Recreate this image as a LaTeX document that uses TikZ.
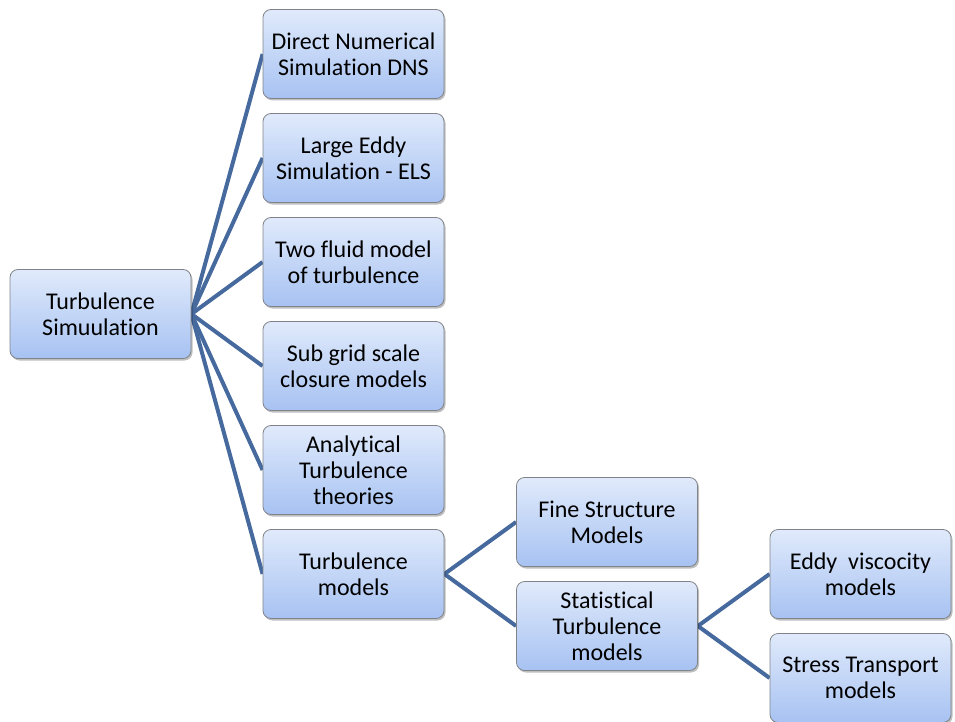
\documentclass[tikz,border=0pt]{standalone}
\usepackage{fontspec}
\setmainfont[Ligatures=NoCommon]{Carlito}
\usetikzlibrary{shadows,backgrounds}
\definecolor{boxtop}{HTML}{E0EAFB}
\definecolor{boxbot}{HTML}{A7C2F2}
\definecolor{boxedge}{HTML}{808488}
\definecolor{linkc}{HTML}{46699E}
\begin{document}
\begin{tikzpicture}[x=1pt,y=-1pt,
  box/.style={draw=boxedge, line width=0.8pt, rounded corners=8pt,
    top color=boxtop, bottom color=boxbot,
    minimum width=181pt, minimum height=89pt, inner sep=0pt,
    align=center, font=\fontsize{24}{26}\selectfont,
    drop shadow={shadow xshift=1.5pt, shadow yshift=-2pt, opacity=0.25, fill=black}},
  link/.style={draw=linkc, line width=4pt}]
\useasboundingbox (0,0) rectangle (955,722);
\node[box] (root) at (100.5,314) {Turbulence\\Simuulation};
\node[box] (dns) at (353.5,54) {Direct Numerical\\Simulation DNS};
\node[box] (les) at (353.5,158) {Large Eddy\\Simulation - ELS};
\node[box] (two) at (353.5,262) {Two fluid model\\of turbulence};
\node[box] (sub) at (353.5,366) {Sub grid scale\\closure models};
\node[box] (ana) at (353.5,470) {Analytical\\Turbulence\\theories};
\node[box] (tm) at (353.5,574) {Turbulence\\models};
\node[box] (fine) at (607,522) {Fine Structure\\Models};
\node[box] (stat) at (607,626) {Statistical\\Turbulence\\models};
\node[box] (eddy) at (860.5,574) {Eddy\ \ viscocity\\models};
\node[box] (stress) at (860.5,678) {Stress Transport\\models};
\begin{scope}[on background layer]
\foreach \c in {dns,les,two,sub,ana,tm}
  \draw[link] (root.east) -- (\c.west);
\draw[link] (tm.east) -- (fine.west);
\draw[link] (tm.east) -- (stat.west);
\draw[link] (stat.east) -- (eddy.west);
\draw[link] (stat.east) -- (stress.west);
\end{scope}
\end{tikzpicture}
\end{document}
